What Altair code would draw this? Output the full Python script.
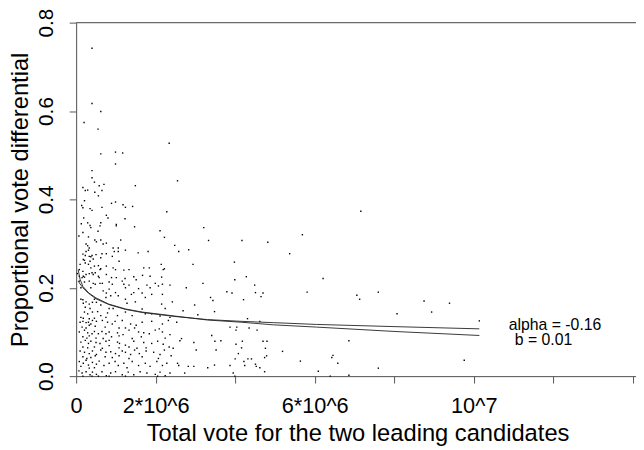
import altair as alt
import pandas as pd

# Scatter points: (total vote in millions, proportional vote differential)
points_top = [
    (0.40, 0.742), (0.40, 0.617), (0.62, 0.599), (0.20, 0.574), (0.55, 0.559),
    (2.34, 0.527), (0.62, 0.503), (0.99, 0.507), (1.17, 0.505), (0.99, 0.480),
    (0.40, 0.465), (0.40, 0.449), (7.16, 0.373),
]

points_upper_dense = [
    (0.46, 0.439), (0.58, 0.431), (0.70, 0.434), (1.49, 0.431), (0.17, 0.427),
    (0.23, 0.420), (0.29, 0.421), (0.47, 0.416), (0.56, 0.408), (0.65, 0.420),
    (0.21, 0.397), (0.14, 0.386), (0.17, 0.381), (0.35, 0.379), (0.40, 0.375),
    (0.65, 0.382), (0.89, 0.391), (0.99, 0.394), (1.18, 0.388), (1.24, 0.382),
    (1.42, 0.384), (2.28, 0.372), (0.76, 0.364), (0.80, 0.358), (0.19, 0.358),
    (0.13, 0.345), (0.29, 0.347), (0.35, 0.341), (0.37, 0.336), (0.62, 0.347),
    (0.60, 0.340), (1.01, 0.343), (1.01, 0.340), (1.23, 0.356), (1.47, 0.338),
    (0.17, 0.325), (0.55, 0.328), (0.07, 0.317), (2.11, 0.329), (2.22, 0.314),
    (0.31, 0.315), (0.47, 0.308), (0.51, 0.304), (0.62, 0.308), (0.68, 0.299),
    (0.76, 0.301), (1.12, 0.308), (0.25, 0.299), (0.29, 0.295), (0.33, 0.290),
    (0.25, 0.282), (0.31, 0.285), (0.93, 0.290), (1.06, 0.290), (1.06, 0.282),
    (0.96, 0.282), (1.24, 0.285), (1.56, 0.279), (1.81, 0.282), (0.17, 0.276),
    (0.23, 0.273), (0.33, 0.271), (0.37, 0.270), (0.40, 0.273), (0.43, 0.265),
    (0.50, 0.275), (0.65, 0.277), (0.76, 0.277), (0.91, 0.271), (0.62, 0.268),
    (0.18, 0.264), (0.21, 0.262), (0.23, 0.256), (0.35, 0.260), (0.31, 0.253),
    (1.08, 0.260), (0.10, 0.253), (0.37, 0.245), (0.46, 0.249), (0.56, 0.250),
    (0.60, 0.241), (0.62, 0.243), (0.76, 0.249), (0.93, 0.245), (0.99, 0.241),
    (1.20, 0.240), (1.33, 0.241), (1.70, 0.245), (1.84, 0.245), (2.14, 0.253),
    (2.19, 0.241), (2.22, 0.243), (0.08, 0.241), (0.17, 0.237), (0.33, 0.232),
    (0.40, 0.234), (0.43, 0.230), (0.48, 0.234), (0.08, 0.226), (0.18, 0.226),
    (0.21, 0.224), (0.15, 0.223), (0.25, 0.230), (0.56, 0.226), (0.58, 0.223),
    (0.76, 0.230), (0.89, 0.223), (1.01, 0.223), (1.23, 0.221), (1.45, 0.225),
    (1.67, 0.228), (1.86, 0.226), (2.15, 0.224), (0.03, 0.232),
]

points_lower_dense = [
    (0.08, 0.215), (0.21, 0.213), (0.33, 0.215), (0.43, 0.210), (0.48, 0.208),
    (0.60, 0.210), (0.66, 0.210), (0.83, 0.213), (0.91, 0.208), (1.16, 0.215),
    (1.20, 0.208), (1.33, 0.206), (1.51, 0.218), (1.78, 0.206), (1.99, 0.210),
    (2.17, 0.208), (0.12, 0.200), (0.37, 0.200), (0.83, 0.197), (1.24, 0.200),
    (1.57, 0.198), (1.86, 0.200), (2.07, 0.204), (2.36, 0.206),
    (0.68, 0.193), (0.76, 0.188), (0.99, 0.189), (1.06, 0.182), (1.39, 0.185),
    (1.45, 0.189), (1.66, 0.188), (1.90, 0.185), (2.17, 0.185), (0.12, 0.174),
    (0.17, 0.173), (0.46, 0.174), (0.75, 0.178), (0.87, 0.182), (1.24, 0.174),
    (1.74, 0.178),
    (0.18, 0.165), (0.25, 0.168), (0.33, 0.163), (0.41, 0.167), (0.51, 0.167),
    (0.62, 0.161), (1.28, 0.165), (1.49, 0.168), (2.15, 0.163), (2.42, 0.168),
    (0.23, 0.156), (0.35, 0.153), (0.83, 0.153), (0.93, 0.153), (1.66, 0.152),
    (2.24, 0.153),
    (0.21, 0.145), (0.29, 0.141), (0.41, 0.145), (0.54, 0.146), (0.62, 0.137),
    (0.79, 0.143), (1.04, 0.137), (1.24, 0.145), (1.41, 0.137), (1.74, 0.141),
    (1.90, 0.141), (2.11, 0.136), (2.36, 0.133), (0.12, 0.133), (0.18, 0.131),
    (0.33, 0.130), (0.46, 0.131), (0.75, 0.133),
    (0.10, 0.122), (0.17, 0.124), (0.25, 0.121), (0.31, 0.122), (0.37, 0.118),
    (0.41, 0.126), (0.51, 0.124), (0.66, 0.126), (0.79, 0.122), (0.91, 0.118),
    (0.98, 0.124), (1.16, 0.126), (1.37, 0.118), (1.51, 0.115), (1.66, 0.122),
    (1.90, 0.124), (2.17, 0.118), (2.32, 0.126), (0.15, 0.111), (0.25, 0.109),
    (0.33, 0.115), (0.48, 0.113), (0.73, 0.111), (1.08, 0.109), (1.24, 0.109),
    (1.47, 0.109), (2.09, 0.107),
    (0.08, 0.100), (0.21, 0.104), (0.29, 0.098), (0.40, 0.096), (0.46, 0.101),
    (0.56, 0.096), (0.65, 0.101), (0.75, 0.096), (0.83, 0.100), (1.04, 0.098),
    (1.18, 0.094), (1.33, 0.104), (1.57, 0.100), (1.70, 0.098), (1.84, 0.096),
    (1.99, 0.104), (2.17, 0.100), (2.36, 0.094), (0.17, 0.089), (0.27, 0.086),
    (0.33, 0.091), (0.50, 0.086), (0.68, 0.085), (0.89, 0.089), (1.08, 0.091),
    (1.41, 0.085), (1.64, 0.089), (2.24, 0.086),
    (0.12, 0.077), (0.23, 0.081), (0.31, 0.074), (0.37, 0.079), (0.50, 0.076),
    (0.60, 0.074), (0.75, 0.079), (0.83, 0.081), (1.04, 0.077), (1.09, 0.074),
    (1.24, 0.070), (1.45, 0.079), (1.70, 0.076), (1.90, 0.074), (2.05, 0.079),
    (2.19, 0.072), (0.17, 0.066), (0.29, 0.064), (0.46, 0.066), (0.66, 0.063),
    (0.83, 0.069), (1.08, 0.064), (1.33, 0.066), (1.53, 0.063), (1.76, 0.064),
    (2.34, 0.066), (2.44, 0.063),
    (0.10, 0.057), (0.21, 0.054), (0.33, 0.051), (0.41, 0.057), (0.51, 0.049),
    (0.62, 0.059), (0.75, 0.054), (0.87, 0.055), (0.99, 0.051), (1.16, 0.057),
    (1.24, 0.054), (1.37, 0.049), (1.47, 0.059), (1.59, 0.051), (1.76, 0.057),
    (1.95, 0.054), (2.11, 0.049), (2.22, 0.059), (0.17, 0.044), (0.27, 0.040),
    (0.37, 0.042), (0.48, 0.046), (0.73, 0.044), (0.91, 0.042), (1.08, 0.046),
    (1.33, 0.040), (1.66, 0.044), (2.07, 0.040), (2.39, 0.046),
    (0.08, 0.033), (0.18, 0.029), (0.25, 0.036), (0.31, 0.025), (0.41, 0.031),
    (0.51, 0.027), (0.58, 0.034), (0.70, 0.024), (0.83, 0.029), (0.98, 0.033),
    (1.06, 0.024), (1.20, 0.029), (1.28, 0.019), (1.41, 0.033), (1.57, 0.024),
    (1.74, 0.029), (1.86, 0.022), (2.03, 0.033), (2.17, 0.024), (2.28, 0.029),
    (0.12, 0.022), (0.33, 0.018), (0.46, 0.019),
    (0.07, 0.012), (0.15, 0.007), (0.25, 0.010), (0.35, 0.003), (0.41, 0.009),
    (0.51, 0.004), (0.65, 0.010), (0.76, 0.001), (0.87, 0.007), (0.99, 0.010),
    (1.16, 0.003), (1.31, 0.009), (1.45, 0.003), (1.61, 0.010), (1.78, 0.007),
    (1.99, 0.004), (2.11, 0.009), (2.24, 0.001), (2.36, 0.007), (0.17, 0.000),
    (0.40, 0.000), (0.56, 0.000), (0.83, 0.000), (1.24, 0.000), (2.05, 0.000),
]

points_mid = [
    (2.55, 0.442), (3.21, 0.336), (3.33, 0.307), (4.17, 0.307), (4.82, 0.303),
    (2.48, 0.296), (2.58, 0.282), (2.83, 0.286), (2.94, 0.253), (3.98, 0.258),
    (4.28, 0.225),
    (3.19, 0.210), (2.77, 0.200), (3.99, 0.218), (4.49, 0.206), (3.79, 0.191),
    (3.92, 0.188), (4.51, 0.189), (4.70, 0.188), (4.65, 0.180), (3.38, 0.178),
    (3.44, 0.171), (4.21, 0.173), (2.98, 0.161), (2.69, 0.148), (3.48, 0.146),
    (3.06, 0.139), (2.53, 0.122), (4.31, 0.130), (4.62, 0.124), (3.87, 0.111),
    (4.04, 0.111), (4.02, 0.104), (4.35, 0.109), (4.55, 0.104), (2.65, 0.085),
    (2.61, 0.080), (2.96, 0.076), (3.49, 0.079), (3.64, 0.080), (4.18, 0.079),
    (4.70, 0.079), (4.80, 0.079), (4.02, 0.072), (4.16, 0.064), (3.02, 0.059),
    (3.52, 0.059), (4.76, 0.063), (3.41, 0.092), (4.00, 0.039), (4.32, 0.039),
    (4.41, 0.039), (4.22, 0.033), (4.74, 0.042), (4.79, 0.046), (2.55, 0.029),
    (2.58, 0.024), (2.82, 0.022), (2.96, 0.022), (3.31, 0.019), (3.48, 0.025),
    (3.87, 0.024), (4.24, 0.024), (4.51, 0.027), (4.53, 0.022), (4.62, 0.019),
    (4.08, 0.051), (2.73, 0.007), (3.95, 0.007), (4.74, 0.010), (3.99, 0.000),
]

points_right = [
    (5.69, 0.320), (5.37, 0.277), (5.81, 0.190), (5.19, 0.056), (5.64, 0.034),
    (6.21, 0.221), (7.06, 0.183), (7.13, 0.174), (7.60, 0.190), (8.75, 0.170),
    (9.39, 0.165), (8.07, 0.141), (8.94, 0.145), (10.14, 0.125), (6.86, 0.080),
    (6.46, 0.047), (6.43, 0.042), (6.58, 0.029), (7.60, 0.018), (9.76, 0.036),
    (6.09, 0.011), (6.39, 0.000), (6.86, 0.002),
]

# Fitted curves (x in millions)
curve_x = [0.05, 0.10, 0.17, 0.32, 0.50, 0.82, 1.24, 1.66, 2.48, 3.30, 4.15, 4.97, 6.04, 8.02, 10.14]
curve_a = [0.241, 0.219, 0.203, 0.188, 0.177, 0.163, 0.152, 0.145, 0.136, 0.127, 0.122, 0.116, 0.111, 0.101, 0.092]
curve_b_x = [0.05, 0.12, 0.20, 0.32, 0.50, 0.82, 1.24, 1.66, 2.48, 3.30, 4.15, 4.97, 6.04, 8.02, 10.14]
curve_b = [0.215, 0.206, 0.197, 0.187, 0.175, 0.162, 0.151, 0.144, 0.135, 0.128, 0.124, 0.121, 0.117, 0.112, 0.107]

annot_text = ["alpha = -0.16", "b = 0.01"]
annot_x = [10.88, 11.03]
annot_y = [0.1055, 0.0695]

x_ticks = [0, 2e6, 4e6, 6e6, 8e6, 1e7, 1.2e7, 1.4e7]
y_ticks = [0.0, 0.2, 0.4, 0.6, 0.8]

FONT = "Liberation Sans"

all_pts = points_top + points_upper_dense + points_lower_dense + points_mid + points_right
pts = pd.DataFrame({"x": [p[0] * 1e6 for p in all_pts], "y": [p[1] for p in all_pts]})

curves = pd.concat([
    pd.DataFrame({"x": [v * 1e6 for v in curve_x], "y": curve_a, "c": "a"}),
    pd.DataFrame({"x": [v * 1e6 for v in curve_b_x], "y": curve_b, "c": "b"}),
])
ann = pd.DataFrame({"x": [v * 1e6 for v in annot_x], "y": annot_y, "t": annot_text})

xscale = alt.Scale(domain=[0, 14.08e6], nice=False, zero=False)
yscale = alt.Scale(domain=[0, 0.8], nice=False)

label_expr = ("datum.value == 0 ? '0' : datum.value == 2000000 ? '2*10^6' : "
              "datum.value == 6000000 ? '6*10^6' : datum.value == 10000000 ? '10^7' : ''")

xaxis = alt.Axis(
    values=x_ticks, labelExpr=label_expr, grid=False, tickSize=7,
    labelFont=FONT, labelFontSize=22, labelColor="black", labelPadding=30,
    labelBaseline="alphabetic", labelFlush=False, labelOverlap=False,
    domainColor="#555", tickColor="#555",
    title="Total vote for the two leading candidates", titleFont=FONT,
    titleFontSize=24, titleFontWeight="normal", titleColor="black",
    titleX=285, titleY=65, titleAlign="center", titleBaseline="alphabetic",
)
yaxis = alt.Axis(
    values=y_ticks, format=".1f", grid=False, tickSize=7,
    labelFont=FONT, labelFontSize=21, labelColor="black", labelPadding=17,
    labelAngle=270, labelAlign="center", labelBaseline="alphabetic",
    labelFlush=False, labelOverlap=False,
    domainColor="#555", tickColor="#555",
    title="Proportional vote differential", titleFont=FONT,
    titleFontSize=24, titleFontWeight="normal", titleColor="black",
    titleAngle=270, titleX=-49, titleY=179, titleAlign="center",
    titleBaseline="alphabetic",
)

scatter = alt.Chart(pts).mark_square(size=2, color="black", opacity=1).encode(
    x=alt.X("x:Q", scale=xscale, axis=xaxis),
    y=alt.Y("y:Q", scale=yscale, axis=yaxis),
)

lines = alt.Chart(curves).mark_line(color="#222", strokeWidth=0.9).encode(
    x=alt.X("x:Q", scale=xscale),
    y=alt.Y("y:Q", scale=yscale),
    detail="c:N",
)

top_rule = alt.Chart(pd.DataFrame({"y": [0.8]})).mark_rule(color="#555", strokeWidth=1).encode(
    y=alt.Y("y:Q", scale=yscale)
)

texts = alt.Chart(ann).mark_text(
    font=FONT, fontSize=16, align="left", baseline="alphabetic", color="black"
).encode(
    x=alt.X("x:Q", scale=xscale),
    y=alt.Y("y:Q", scale=yscale),
    text="t:N",
)

chart = alt.layer(top_rule, scatter, lines, texts).properties(
    width=567, height=358,
    autosize=alt.AutoSizeParams(type="none"),
    padding={"left": 69, "top": 12, "right": 0, "bottom": 72},
).configure_view(stroke=None).configure(background="white")

chart.save("out.html", embed_options={"renderer": "svg", "actions": False})
